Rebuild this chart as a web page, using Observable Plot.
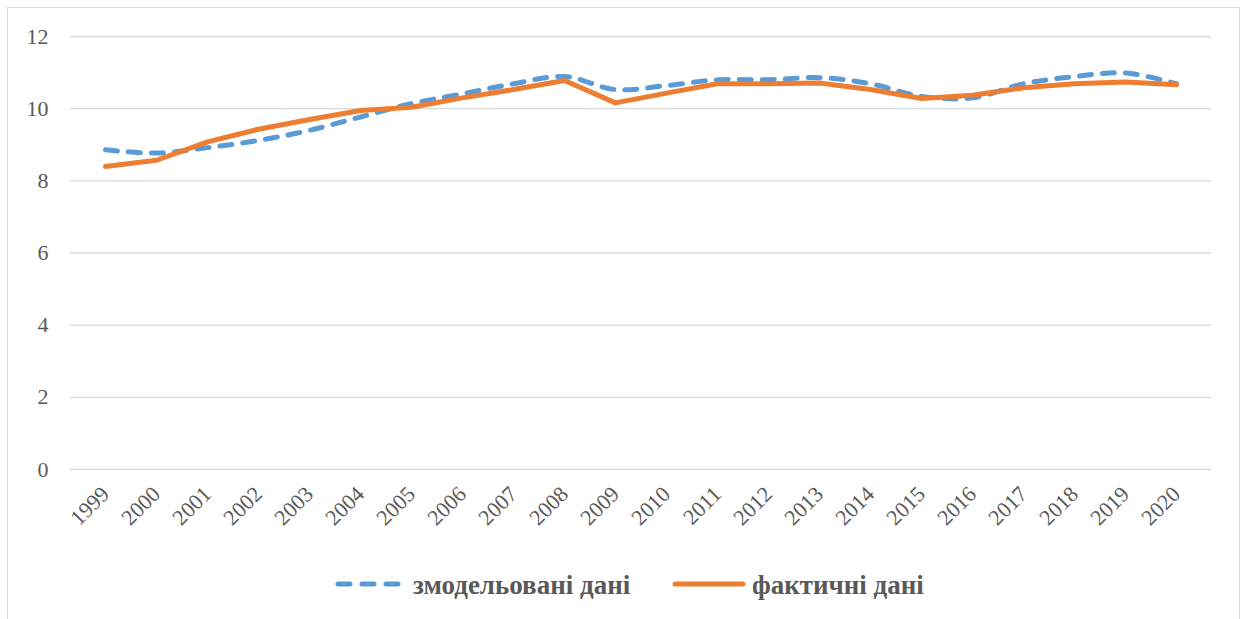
<!DOCTYPE html>
<html>
<head>
<meta charset="utf-8">
<script src="https://cdn.jsdelivr.net/npm/d3@7"></script>
<script src="https://cdn.jsdelivr.net/npm/@observablehq/plot@0.6"></script>
<style>
  html, body { margin: 0; padding: 0; background: #fff; }
  #wrap { position: relative; width: 1242px; height: 619px; overflow: hidden; }
  #frame { position: absolute; left: 7px; top: 7px; width: 1231px; height: 630px; border: 1px solid #d9d9d9; pointer-events: none; }
  #chart { position: absolute; left: 0; top: 0; }
  #legend { position: absolute; left: 0; top: 0; }
</style>
</head>
<body>
<div id="wrap">
  <div id="frame"></div>
  <div id="chart"></div>
  <svg id="legend" width="1242" height="619"></svg>
</div>
<script>
const years = ["1999","2000","2001","2002","2003","2004","2005","2006","2007","2008","2009","2010","2011","2012","2013","2014","2015","2016","2017","2018","2019","2020"];
const modeled = [8.86, 8.77, 8.92, 9.12, 9.40, 9.77, 10.14, 10.41, 10.69, 10.89, 10.53, 10.64, 10.80, 10.80, 10.86, 10.69, 10.34, 10.30, 10.69, 10.89, 10.99, 10.69];
const actual  = [8.40, 8.57, 9.08, 9.43, 9.70, 9.95, 10.04, 10.30, 10.53, 10.78, 10.16, 10.43, 10.69, 10.69, 10.71, 10.53, 10.28, 10.37, 10.58, 10.69, 10.74, 10.66];
const yTicks = [0, 2, 4, 6, 8, 10, 12];
const seriesNames = ["змодельовані дані", "фактичні дані"];
const colors = ["#5B9BD5", "#ED7D31"];

const modeledData = years.map((y, i) => ({year: y, value: modeled[i]}));
const actualData = years.map((y, i) => ({year: y, value: actual[i]}));

const plot = Plot.plot({
  width: 1242,
  height: 540,
  marginLeft: 70,
  marginRight: 31,
  marginTop: 36,
  marginBottom: 71,
  style: "font-family: 'Liberation Serif', serif; font-size: 22px; color: #595959; background: transparent;",
  x: { type: "point", domain: years, padding: 0.5, label: null, tickSize: 0, tickPadding: 21, tickRotate: -45 },
  y: { domain: [0, 12], ticks: yTicks, label: null, tickSize: 0, tickPadding: 22 },
  marks: [
    Plot.ruleY(yTicks, { stroke: "#d9d9d9", strokeWidth: 1.3 }),
    Plot.line(modeledData, { x: "year", y: "value", stroke: colors[0], strokeWidth: 5, strokeDasharray: "12,11", strokeLinecap: "round", curve: "catmull-rom" }),
    Plot.line(actualData, { x: "year", y: "value", stroke: colors[1], strokeWidth: 5, strokeLinecap: "round", strokeLinejoin: "round" })
  ]
});
plot.querySelectorAll("g[aria-label$='tick label']").forEach(g => {
  g.setAttribute("font-family", "Liberation Serif, serif");
  g.setAttribute("font-size", "22");
  g.setAttribute("fill", "#595959");
});
document.getElementById("chart").appendChild(plot);

// legend (layout positions only)
const lg = d3.select("#legend");
const items = [
  { name: seriesNames[0], color: colors[0], x1: 338, x2: 398, textX: 413, dash: "12,12" },
  { name: seriesNames[1], color: colors[1], x1: 675, x2: 743, textX: 752, dash: null }
];
items.forEach(it => {
  const l = lg.append("line").attr("x1", it.x1).attr("x2", it.x2).attr("y1", 584).attr("y2", 584)
    .attr("stroke", it.color).attr("stroke-width", 5).attr("stroke-linecap", "round");
  if (it.dash) l.attr("stroke-dasharray", it.dash);
  lg.append("text").attr("x", it.textX).attr("y", 594)
    .attr("font-family", "Liberation Serif, serif").attr("font-weight", "bold").attr("font-size", 27)
    .attr("fill", "#595959").text(it.name);
});
</script>
</body>
</html>
